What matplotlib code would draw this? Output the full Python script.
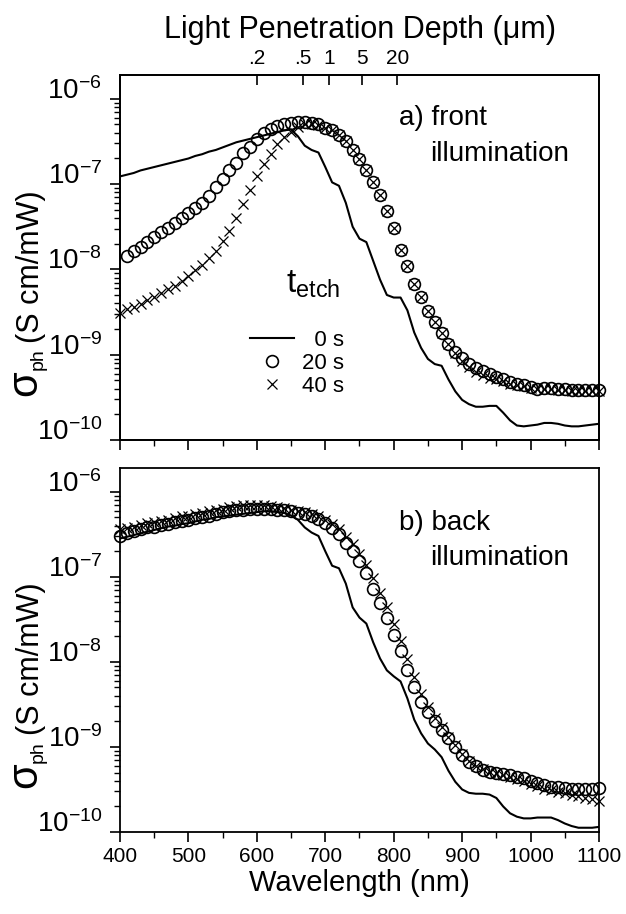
import matplotlib
matplotlib.use("Agg")
import matplotlib.pyplot as plt
from matplotlib.ticker import FixedLocator, LogLocator, NullFormatter
import numpy as np

plt.rcParams["font.family"] = ["Liberation Sans", "DejaVu Sans"]
plt.rcParams["mathtext.fontset"] = "custom"
plt.rcParams["mathtext.rm"] = "Liberation Sans"
plt.rcParams["mathtext.it"] = "Liberation Sans:italic"
plt.rcParams["mathtext.default"] = "regular"

# wavelength grid (nm), 400..1100 every 10 nm
wavelength = [400, 410, 420, 430, 440, 450, 460, 470, 480, 490,
              500, 510, 520, 530, 540, 550, 560, 570, 580, 590,
              600, 610, 620, 630, 640, 650, 660, 670, 680, 690,
              700, 710, 720, 730, 740, 750, 760, 770, 780, 790,
              800, 810, 820, 830, 840, 850, 860, 870, 880, 890,
              900, 910, 920, 930, 940, 950, 960, 970, 980, 990,
              1000, 1010, 1020, 1030, 1040, 1050, 1060, 1070, 1080, 1090,
              1100]

# log10(sigma_ph) -- a) front illumination
front_0s = [-6.91, -6.89, -6.87, -6.84, -6.82, -6.80, -6.78, -6.76, -6.74, -6.72,
            -6.70, -6.67, -6.65, -6.62, -6.60, -6.57, -6.54, -6.51, -6.49, -6.47,
            -6.45, -6.43, -6.41, -6.39, -6.37, -6.36, -6.44, -6.55, -6.60, -6.63,
            -6.80, -6.98, -7.02, -7.22, -7.50, -7.64, -7.68, -7.90, -8.12, -8.30,
            -8.33, -8.33, -8.48, -8.74, -8.92, -9.05, -9.11, -9.13, -9.29, -9.43,
            -9.53, -9.58, -9.61, -9.61, -9.60, -9.60, -9.68, -9.77, -9.83, -9.84,
            -9.83, -9.82, -9.80, -9.80, -9.81, -9.83, -9.84, -9.84, -9.83, -9.82,
            -9.81]
# 20 s circles start at 410 nm
front_20s = [-7.84, -7.79, -7.74, -7.68, -7.62, -7.56, -7.51, -7.46, -7.40,
             -7.34, -7.28, -7.22, -7.14, -7.04, -6.94, -6.84, -6.75, -6.63, -6.56,
             -6.47, -6.40, -6.35, -6.32, -6.29, -6.28, -6.27, -6.27, -6.28, -6.30,
             -6.34, -6.37, -6.42, -6.49, -6.60, -6.71, -6.84, -6.98, -7.13, -7.32,
             -7.51, -7.77, -7.96, -8.17, -8.32, -8.49, -8.62, -8.75, -8.87, -8.97,
             -9.04, -9.11, -9.16, -9.19, -9.23, -9.26, -9.28, -9.32, -9.34, -9.35,
             -9.38, -9.40, -9.39, -9.39, -9.40, -9.40, -9.41, -9.41, -9.41, -9.41,
             -9.41]
front_40s = [-8.51, -8.47, -8.44, -8.40, -8.36, -8.32, -8.28, -8.23, -8.19, -8.14,
             -8.08, -8.01, -7.95, -7.87, -7.78, -7.67, -7.55, -7.40, -7.23, -7.07,
             -6.91, -6.76, -6.65, -6.53, -6.45, -6.39, -6.33, -6.30, -6.29, -6.31,
             -6.34, -6.37, -6.42, -6.49, -6.60, -6.71, -6.84, -6.98, -7.13, -7.32,
             -7.51, -7.77, -7.96, -8.17, -8.32, -8.49, -8.62, -8.75, -8.87, -8.98,
             -9.07, -9.15, -9.20, -9.24, -9.27, -9.29, -9.31, -9.34, -9.36, -9.37,
             -9.39, -9.40, -9.40, -9.40, -9.41, -9.41, -9.42, -9.42, -9.42, -9.42,
             -9.42]

# b) back illumination
back_0s = [-6.55, -6.53, -6.51, -6.49, -6.47, -6.45, -6.43, -6.41, -6.40, -6.38,
           -6.37, -6.35, -6.33, -6.32, -6.30, -6.29, -6.28, -6.27, -6.26, -6.25,
           -6.24, -6.23, -6.23, -6.24, -6.25, -6.28, -6.33, -6.42, -6.48, -6.52,
           -6.70, -6.87, -6.90, -7.08, -7.36, -7.48, -7.55, -7.77, -7.96, -8.10,
           -8.17, -8.23, -8.43, -8.68, -8.84, -8.96, -9.03, -9.12, -9.28, -9.41,
           -9.50, -9.54, -9.55, -9.55, -9.56, -9.60, -9.70, -9.78, -9.82, -9.84,
           -9.84, -9.83, -9.83, -9.83, -9.86, -9.90, -9.93, -9.95, -9.95, -9.95,
           -9.94]
back_20s = [-6.52, -6.49, -6.46, -6.44, -6.42, -6.41, -6.39, -6.38, -6.36, -6.34,
            -6.33, -6.31, -6.30, -6.28, -6.26, -6.24, -6.23, -6.22, -6.21, -6.20,
            -6.20, -6.20, -6.20, -6.21, -6.21, -6.23, -6.25, -6.26, -6.28, -6.32,
            -6.37, -6.43, -6.50, -6.60, -6.70, -6.82, -6.96, -7.14, -7.31, -7.48,
            -7.68, -7.87, -8.10, -8.29, -8.47, -8.59, -8.70, -8.80, -8.90, -9.00,
            -9.09, -9.18, -9.23, -9.27, -9.29, -9.31, -9.32, -9.33, -9.35, -9.36,
            -9.40, -9.42, -9.45, -9.47, -9.47, -9.48, -9.49, -9.50, -9.50, -9.49,
            -9.48]
back_40s = [-6.44, -6.43, -6.41, -6.39, -6.37, -6.36, -6.34, -6.33, -6.31, -6.29,
            -6.28, -6.26, -6.25, -6.23, -6.21, -6.20, -6.18, -6.17, -6.16, -6.16,
            -6.16, -6.16, -6.17, -6.18, -6.19, -6.21, -6.23, -6.24, -6.26, -6.29,
            -6.33, -6.38, -6.44, -6.53, -6.62, -6.73, -6.86, -7.02, -7.19, -7.36,
            -7.55, -7.75, -7.97, -8.18, -8.38, -8.53, -8.66, -8.77, -8.88, -8.98,
            -9.08, -9.16, -9.22, -9.26, -9.29, -9.31, -9.33, -9.35, -9.38, -9.40,
            -9.43, -9.46, -9.49, -9.51, -9.53, -9.54, -9.56, -9.58, -9.60, -9.61,
            -9.63]

# top axis: penetration depth marks
depth_wl = [600, 667, 705, 754, 805]
depth_labels = [".2", ".5", "1", "5", "20"]

decades = [1e-10, 1e-9, 1e-8, 1e-7, 1e-6]
decade_labels = [r"$10^{-10}$", r"$10^{-9}$", r"$10^{-8}$", r"$10^{-7}$", r"$10^{-6}$"]
etch_labels = ["\u20070 s", "20 s", "40 s"]

W, H = 626, 914
fig = plt.figure(figsize=(W / 100, H / 100), dpi=100)
ax_a = fig.add_axes([120 / W, 1 - 440 / H, 479 / W, 365 / H])
ax_b = fig.add_axes([120 / W, 1 - 832 / H, 479 / W, 364 / H])

wl = np.array(wavelength)


def style(ax, show_x):
    ax.set_yscale("log")
    ax.set_xlim(400, 1100)
    ax.set_ylim(1e-10, 1.9e-6)
    ax.yaxis.set_major_locator(FixedLocator(decades))
    ax.set_yticklabels(decade_labels, fontsize=20, va="baseline")
    ax.yaxis.set_minor_locator(LogLocator(base=10, subs=np.arange(2, 10)))
    ax.yaxis.set_minor_formatter(NullFormatter())
    ax.set_xticks(np.arange(400, 1101, 100))
    ax.set_xticks(np.arange(450, 1100, 100), minor=True)
    ax.tick_params(which="major", direction="out", length=7, width=1.2, pad=6)
    ax.tick_params(which="minor", direction="out", length=4, width=1.0)
    ax.tick_params(axis="x", labelsize=15, labelbottom=show_x, pad=4)
    for s in ax.spines.values():
        s.set_linewidth(1.3)


def ylabel(ax):
    sig = ax.text(-0.198, 0.12, "\u03c3", rotation=90, ha="center", va="bottom",
                  fontsize=30, transform=ax.transAxes)
    sub = ax.annotate("ph", xy=(1.0, 1.0), xycoords=sig, xytext=(-5, 0),
                      textcoords="offset points", rotation=90,
                      ha="center", va="bottom", fontsize=14)
    ax.annotate("(S cm/mW)", xy=(0.5, 1.0), xycoords=sub, xytext=(-5, 4),
                textcoords="offset points", rotation=90,
                ha="center", va="bottom", fontsize=22)


for ax, l0, l20, l40, c_wl in [(ax_a, front_0s, front_20s, front_40s, wl[1:]),
                               (ax_b, back_0s, back_20s, back_40s, wl)]:
    style(ax, ax is ax_b)
    line0, = ax.plot(wl, 10 ** np.array(l0), color="k", lw=1.5)
    mk40, = ax.plot(wl, 10 ** np.array(l40), ls="none", marker="x", color="k",
                    ms=6.5, mew=0.9, clip_on=False)
    mk20, = ax.plot(c_wl, 10 ** np.array(l20), ls="none", marker="o", mfc="none",
                    mec="k", ms=8.5, mew=1.2, clip_on=False)
    ylabel(ax)

ax_a.text(0.459, 0.403, r"$t_{etch}$", transform=ax_a.transAxes, fontsize=24,
          ha="right", va="baseline")
ax_a.legend([line0, mk20, mk40], etch_labels, fontsize=16, frameon=False,
            loc="upper left", bbox_to_anchor=(0.271, 0.302), borderaxespad=0,
            borderpad=0, handlelength=2.0, handletextpad=0.35, labelspacing=0.1)

ax_a.text(0.582, 0.883, "a) front", transform=ax_a.transAxes, fontsize=20, va="center")
ax_a.text(0.647, 0.784, "illumination", transform=ax_a.transAxes, fontsize=20, va="center")
ax_b.text(0.582, 0.850, "b) back", transform=ax_b.transAxes, fontsize=20, va="center")
ax_b.text(0.647, 0.752, "illumination", transform=ax_b.transAxes, fontsize=20, va="center")

ax_b.set_xlabel("Wavelength (nm)", fontsize=21, labelpad=2)

top = ax_a.twiny()
top.set_xlim(400, 1100)
top.set_xticks(depth_wl)
top.set_xticklabels(depth_labels, fontsize=15)
top.tick_params(direction="in", length=7, width=1.2, pad=5)
top.set_xlabel("Light Penetration Depth (\u03bcm)", fontsize=22, labelpad=8)
for s in top.spines.values():
    s.set_linewidth(1.3)

fig.savefig("out.png", dpi=100)
